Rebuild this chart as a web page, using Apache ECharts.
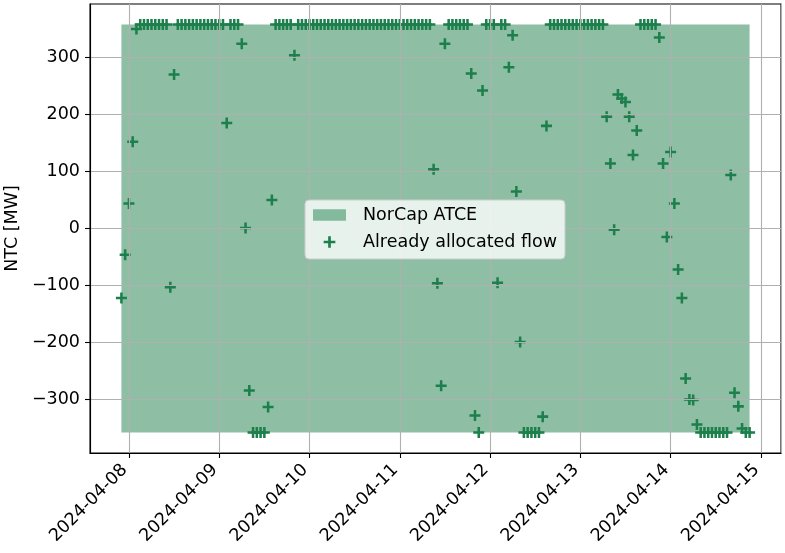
<!DOCTYPE html>
<html><head><meta charset="utf-8">
<script src="https://cdn.jsdelivr.net/npm/echarts@6/dist/echarts.min.js"></script>
<style>html,body{margin:0;padding:0;background:#fff}#c{width:785px;height:553px}</style>
</head><body><div id="c"></div>
<script>
// ---- data ----
const startTime = Date.UTC(2024, 3, 7, 22, 0, 0); // first hourly sample (UTC)
const stepMs = 3600000;
const flowValues = [
  -122, -46, 44, 152, 350, 358, 358, 358, 358, 358, 358, 358, 358, -103, 270, 358, 358, 358, 358, 358, 358, 358, 358, 358,
  358, 358, 358, 358, 185, 358, 358, 358, 324, 1, -284, -358, -358, -358, -358, -313, 50, 358, 358, 358, 358, 358, 304, 358,
  358, 358, 358, 358, 358, 358, 358, 358, 358, 358, 358, 358, 358, 358, 358, 358, 358, 358, 358, 358, 358, 358, 358, 358,
  358, 358, 358, 358, 358, 358, 358, 358, 358, 358, 358, 104, -96, -276, 324, 358, 358, 358, 358, 358, 358, 272, -328, -358,
  242, 358, 358, 358, -95, 358, 358, 283, 339, 65, -199, -358, -358, -358, -358, -358, -330, 180, 358, 358, 358, 358, 358, 358,
  358, 358, 358, 358, 358, 358, 358, 358, 358, 196, 114, -2, 235, 228, 222, 196, 129, 172, 358, 358, 358, 358, 358, 335,
  114, -15, 134, 44, -72, -122, -263, -300, -301, -344, -358, -358, -358, -358, -358, -358, -358, -358, 94, -288, -312, -351, -358, -358
];
const atceUpper = [358];
const atceLower = [-358];
const yTickValues = [-300, -200, -100, 0, 100, 200, 300];
const seriesNames = ['NorCap ATCE', 'Already allocated flow'];
const yLabel = 'NTC [MW]';

// ---- derived ----
const times = flowValues.map((v, i) => startTime + i * stepMs);
const flowData = flowValues.map((v, i) => [times[i], v]);
const tFirst = times[0], tLast = times[times.length - 1];
const xMargin = (tLast - tFirst) * 0.05;
const yMargin = (atceUpper[0] - atceLower[0]) * 0.05;

const plusPath = 'path://M3.85,0h2.3v3.85h3.85v2.3h-3.85v3.85h-2.3v-3.85h-3.85v-2.3h3.85z';
const green = '#1d7f4b';
const FONT = 'DejaVu Sans';
const FS = 17.5;
const pad = n => (n < 10 ? '0' : '') + n;
const fmtDate = v => {
  const d = new Date(v);
  if (d.getUTCHours() !== 0 || d.getUTCMinutes() !== 0) return '';
  return d.getUTCFullYear() + '-' + pad(d.getUTCMonth() + 1) + '-' + pad(d.getUTCDate());
};

const chart = echarts.init(document.getElementById('c'), null, {renderer: 'canvas'});
chart.setOption({
  useUTC: true,
  animation: false,
  backgroundColor: '#ffffff',
  grid: {left: 90, right: 4, top: 4, bottom: 100, show: true, borderColor: '#000', borderWidth: 1.1,
         backgroundColor: 'transparent', containLabel: false, outerBoundsMode: 'none'},
  legend: {
    orient: 'vertical', left: 305, top: 200,
    padding: [5.5, 8, 7.5, 8], itemGap: 8, itemWidth: 33, itemHeight: 11.7,
    backgroundColor: 'rgba(255,255,255,0.8)', borderColor: '#cccccc', borderWidth: 1, borderRadius: 4,
    textStyle: {fontSize: FS, color: '#000', fontFamily: FONT, lineHeight: 19, padding: [0, 0, 0, 12]},
    selectedMode: false, z: 20,
    data: [{name: seriesNames[0], icon: 'rect'}, {name: seriesNames[1], icon: plusPath}]
  },
  xAxis: {
    type: 'time', min: tFirst - xMargin, max: tLast + xMargin,
    minInterval: 86400000, maxInterval: 86400000, z: 5,
    axisLine: {show: true, onZero: false, lineStyle: {color: '#000', width: 1.1}},
    axisTick: {show: true, length: 5, lineStyle: {color: '#000', width: 1.1}},
    splitLine: {show: true, lineStyle: {color: '#b0b0b0', width: 1.1}},
    axisLabel: {
      rotate: 45, fontSize: FS, color: '#000', fontFamily: FONT, margin: 10, padding: [0, 6, 0, 0],
      formatter: fmtDate
    }
  },
  yAxis: {
    type: 'value', min: atceLower[0] - yMargin, max: atceUpper[0] + yMargin,
    splitNumber: 8, minInterval: 100, maxInterval: 100, z: 5,
    name: yLabel, nameLocation: 'middle', nameRotate: 90, nameGap: 67,
    nameTextStyle: {fontSize: FS, color: '#000', fontFamily: FONT},
    axisLine: {show: true, onZero: false, lineStyle: {color: '#000', width: 1.1}},
    axisTick: {show: true, length: 5, customValues: yTickValues, lineStyle: {color: '#000', width: 1.1}},
    splitLine: {show: true, lineStyle: {color: '#b0b0b0', width: 1.1}},
    axisLabel: {
      fontSize: FS, color: '#000', fontFamily: FONT, margin: 10, customValues: yTickValues,
      formatter: v => {
        if (Math.abs(v - Math.round(v / 100) * 100) > 1e-6) return '';
        return v < 0 ? '\u2212' + Math.abs(v) : String(v);
      }
    }
  },
  series: [
    {
      name: seriesNames[0], type: 'custom', z: 1,
      itemStyle: {color: 'rgba(29,127,75,0.5)'},
      data: [[tFirst, tLast, atceLower[0], atceUpper[0]]],
      encode: {x: [0, 1], y: [2, 3]},
      renderItem: (params, api) => {
        const p0 = api.coord([api.value(0), api.value(3)]);
        const p1 = api.coord([api.value(1), api.value(2)]);
        return {type: 'rect', shape: {x: p0[0], y: p0[1], width: p1[0] - p0[0], height: p1[1] - p0[1]},
                style: {fill: 'rgba(29,127,75,0.5)'}};
      }
    },
    {
      name: seriesNames[1], type: 'scatter', z: 2,
      symbol: plusPath, symbolSize: 11,
      itemStyle: {color: green, opacity: 1},
      data: flowData
    }
  ]
});
</script>
</body></html>
